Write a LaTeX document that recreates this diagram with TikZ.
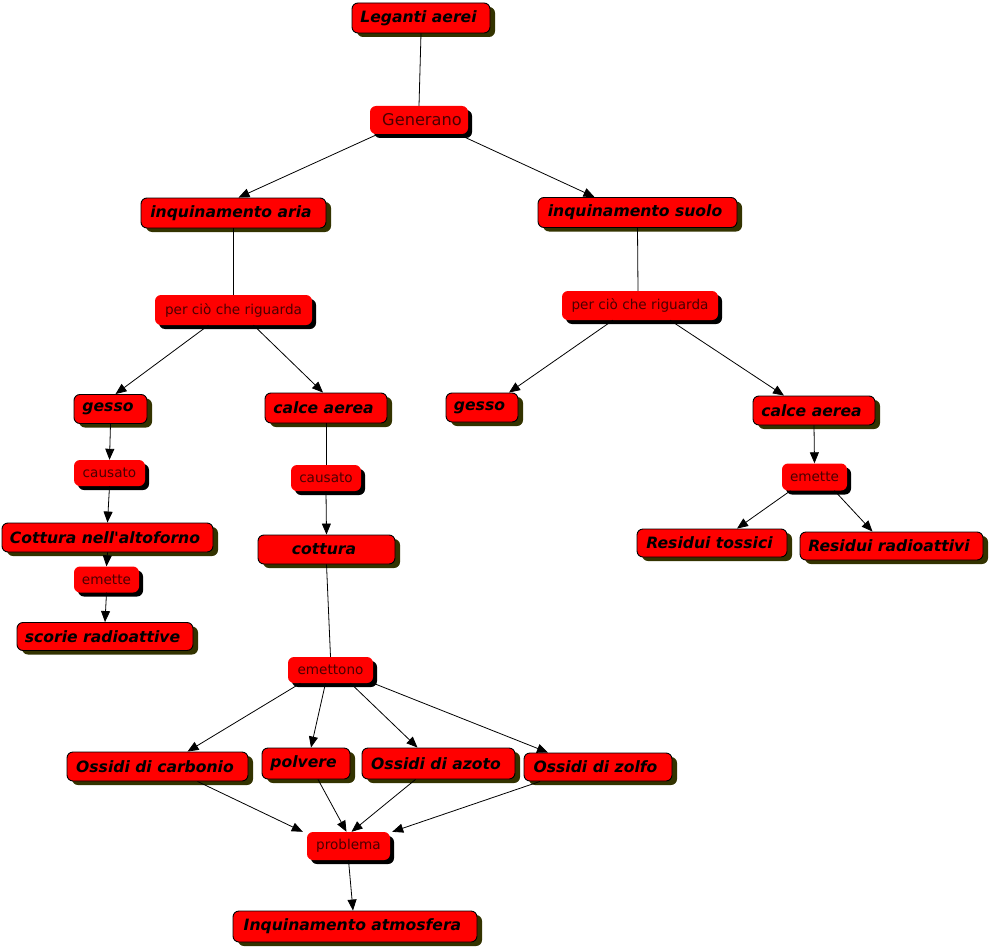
\documentclass[tikz,border=0pt]{standalone}
\usepackage{fontspec}
\setmainfont{DejaVu Sans}[Ligatures=TeXOff]
\usetikzlibrary{arrows.meta,shadows}
\definecolor{boxred}{HTML}{FF0000}
\definecolor{olivesh}{HTML}{333300}
\definecolor{linktext}{HTML}{4A0000}
\tikzset{
  concept/.style={draw=black, line width=0.9pt, fill=boxred, rounded corners=6pt,
    font=\fontsize{15.6}{18}\selectfont\bfseries\itshape, text=black,
    inner sep=0pt, align=center, execute at end node={\hspace{5pt}},
    general shadow={fill=olivesh, shadow xshift=5pt, shadow yshift=-4pt}},
  linkph/.style={draw=none, fill=boxred, rounded corners=6pt,
    font=\fontsize{13.6}{16}\selectfont, text=linktext,
    inner sep=0pt, align=center,
    general shadow={fill=black, shadow xshift=4pt, shadow yshift=-4pt}},
  conn/.style={line width=0.8pt, draw=black},
  arr/.style={conn, -{Triangle[length=11pt,width=9pt]}}
}
\begin{document}
\begin{tikzpicture}[x=1pt,y=-1pt]
\useasboundingbox (0,0) rectangle (990,947);
% concepts and linking phrases
\node[concept, minimum width=138pt, minimum height=30pt] (leg) at (421,18) {Leganti aerei};
\node[linkph, minimum width=98pt, minimum height=28pt, font=\fontsize{16.2}{18}\selectfont] (gen) at (419,120) {\hspace{6pt}Generano};
\node[concept, minimum width=185pt, minimum height=30pt] (aria) at (233.5,213) {inquinamento aria};
\node[concept, minimum width=199pt, minimum height=30pt] (suolo) at (637.5,212.5) {inquinamento suolo};
\node[linkph, minimum width=157pt, minimum height=30pt] (perL) at (233.5,310) {per ciò che riguarda};
\node[linkph, minimum width=156pt, minimum height=29pt] (perR) at (640,305.5) {per ciò che riguarda};
\node[concept, minimum width=73pt, minimum height=29pt] (gessoL) at (110.5,409) {gesso};
\node[concept, minimum width=122pt, minimum height=30pt] (calceL) at (326,408) {calce aerea};
\node[concept, minimum width=72pt, minimum height=29pt] (gessoR) at (482,407.5) {gesso};
\node[concept, minimum width=122pt, minimum height=29pt] (calceR) at (814,410.5) {calce aerea};
\node[linkph, minimum width=71pt, minimum height=26pt] (causL) at (109.5,473) {causato};
\node[linkph, minimum width=70pt, minimum height=26pt] (causM) at (326,478) {causato};
\node[linkph, minimum width=65pt, minimum height=27pt] (emR) at (814.5,477) {emette};
\node[concept, minimum width=211pt, minimum height=29pt] (alto) at (107.5,537.5) {Cottura nell'altoforno};
\node[concept, minimum width=137pt, minimum height=29pt] (cott) at (326.5,549.5) {cottura};
\node[concept, minimum width=150pt, minimum height=28pt] (tox) at (712,543) {Residui tossici};
\node[concept, minimum width=183pt, minimum height=28pt] (rad) at (891.5,546) {Residui radioattivi};
\node[linkph, minimum width=65pt, minimum height=26pt] (emL) at (106.5,579.5) {emette};
\node[concept, minimum width=176pt, minimum height=28pt] (scor) at (105,636.5) {scorie radioattive};
\node[linkph, minimum width=85pt, minimum height=26pt] (emo) at (330.5,670) {emettono};
\node[concept, minimum width=181pt, minimum height=29pt] (carb) at (157.5,766.5) {Ossidi di carbonio};
\node[concept, minimum width=88pt, minimum height=31pt] (polv) at (306,763.5) {polvere};
\node[concept, minimum width=153pt, minimum height=31pt] (azot) at (438.5,763.5) {Ossidi di azoto};
\node[concept, minimum width=148pt, minimum height=28pt] (zolf) at (598,767) {Ossidi di zolfo};
\node[linkph, minimum width=83pt, minimum height=28pt] (prob) at (348.5,846) {problema};
\node[concept, minimum width=244pt, minimum height=31pt] (atm) at (355,926.5) {Inquinamento atmosfera};
% connectors
\draw[conn] (leg.south) -- (gen.north);
\draw[arr] ([xshift=8pt]gen.south west) -- ([xshift=5pt]aria.north);
\draw[arr] ([xshift=-10pt]gen.south east) -- ([xshift=-43pt]suolo.north);
\draw[conn] (aria.south) -- (perL.north);
\draw[conn] (suolo.south) -- ([xshift=-2pt]perR.north);
\draw[arr] ([xshift=-25pt]perL.south) -- ([xshift=5pt]gessoL.north);
\draw[arr] ([xshift=20pt]perL.south) -- ([xshift=-3pt]calceL.north);
\draw[arr] ([xshift=-27pt]perR.south) -- ([xshift=27pt]gessoR.north);
\draw[arr] ([xshift=30pt]perR.south) -- ([xshift=-30pt]calceR.north);
\draw[arr] (gessoL.south) -- (causL.north);
\draw[arr] (causL.south) -- (alto.north);
\draw[arr] (alto.south) -- (emL.north);
\draw[arr] (emL.south) -- (scor.north);
\draw[conn] (calceL.south) -- (causM.north);
\draw[arr] (causM.south) -- (cott.north);
\draw[conn] (cott.south) -- (emo.north);
\draw[arr] (calceR.south) -- (emR.north);
\draw[arr] ([xshift=-24pt]emR.south) -- ([xshift=25pt]tox.north);
\draw[arr] ([xshift=20pt]emR.south) -- ([xshift=-19pt]rad.north);
\draw[arr] ([xshift=-30pt]emo.south) -- ([xshift=30pt]carb.north);
\draw[arr] ([xshift=-5pt]emo.south) -- ([xshift=5pt]polv.north);
\draw[arr] ([xshift=20pt]emo.south) -- ([xshift=-21pt]azot.north);
\draw[arr] (emo.south east) -- ([xshift=-50pt]zolf.north);
\draw[arr] ([xshift=40pt]carb.south) -- ([xshift=-4pt]prob.north west);
\draw[arr] ([xshift=12pt]polv.south) -- ([xshift=-2pt]prob.north);
\draw[arr] ([xshift=-23pt]azot.south) -- ([xshift=3pt]prob.north);
\draw[arr] ([xshift=-58pt]zolf.south) -- ([xshift=2pt]prob.north east);
\draw[arr] (prob.south) -- ([xshift=-2pt]atm.north);
\end{tikzpicture}
\end{document}
